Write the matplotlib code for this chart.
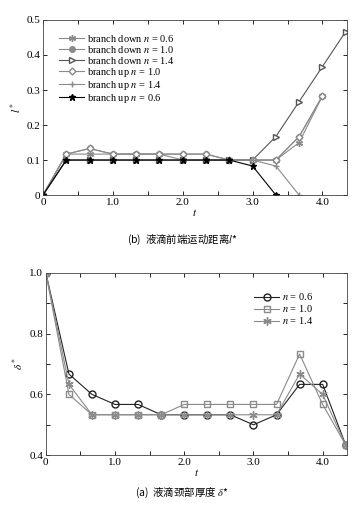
import matplotlib
matplotlib.use("Agg")
import matplotlib.pyplot as plt
from matplotlib.ticker import MultipleLocator, FixedLocator

plt.rcParams['font.family'] = ['Liberation Serif', 'DejaVu Serif']
plt.rcParams['mathtext.fontset'] = 'stix'

t = [k / 3 for k in range(14)]

# Top chart: l*
down06 = [0, 0.117, 0.117, 0.117, 0.117, 0.117, 0.1, 0.1, 0.1, 0.1, 0.1, 0.15, 0.283]
down10 = [0, 0.117, 0.133, 0.117, 0.117, 0.117, 0.117, 0.117, 0.1, 0.1, 0.1, 0.167, 0.283]
down14 = [0, 0.1, 0.1, 0.1, 0.1, 0.1, 0.1, 0.1, 0.1, 0.1, 0.167, 0.267, 0.367, 0.467]
up10 = [0, 0.117, 0.133, 0.117, 0.117, 0.117, 0.117, 0.117, 0.1, 0.1, 0.1, 0.167, 0.283]
up14 = [0, 0.1, 0.1, 0.1, 0.1, 0.1, 0.1, 0.1, 0.1, 0.1, 0.083, 0]
up06 = [0, 0.1, 0.1, 0.1, 0.1, 0.1, 0.1, 0.1, 0.1, 0.083, 0]

# Bottom chart: delta*
d06 = [1.0, 0.667, 0.6, 0.567, 0.567, 0.533, 0.533, 0.533, 0.533, 0.5, 0.533, 0.633, 0.633, 0.433]
d10 = [1.0, 0.6, 0.533, 0.533, 0.533, 0.533, 0.567, 0.567, 0.567, 0.567, 0.567, 0.733, 0.567, 0.433]
d14 = [1.0, 0.633, 0.533, 0.533, 0.533, 0.533, 0.533, 0.533, 0.533, 0.533, 0.533, 0.667, 0.6, 0.433]

gray = '#8a8a8a'
dgray = '#555555'
lw = 0.8
ms = 5
ast = (6, 2, 0)

fig = plt.figure(figsize=(3.64, 5.12), dpi=100)
ax1 = fig.add_axes([0.118, 0.619, 0.835, 0.342])
ax2 = fig.add_axes([0.126, 0.111, 0.827, 0.356])

def style(ax):
    ax.tick_params(direction='in', top=True, right=True, labelsize=8, length=3, width=0.6, pad=2)
    ax.tick_params(which='minor', direction='in', top=True, right=True, length=3, width=0.6)
    for s in ax.spines.values():
        s.set_linewidth(0.6)
        s.set_color('#444444')

n = len
ax1.plot(t[:n(down06)], down06, '-', marker=ast, color=gray, lw=lw, ms=ms, mew=1.0, label=r'branch down $n$ = 0.6')
ax1.plot(t[:n(down10)], down10, '-', marker='o', color=gray, mfc=gray, lw=lw, ms=4, label=r'branch down $n$ = 1.0')
ax1.plot(t[:n(down14)], down14, '-', marker='>', color=dgray, mfc='white', lw=lw, ms=ms, label=r'branch down $n$ = 1.4')
ax1.plot(t[:n(up10)], up10, '-', marker='D', color=gray, mfc='white', lw=lw, ms=3.5, label=r'branch up $n$ = 1.0')
ax1.plot(t[:n(up14)], up14, '-', marker='+', color=gray, lw=lw, ms=ms, label=r'branch up $n$ = 1.4')
ax1.plot(t[:n(up06)], up06, '-', marker='*', color='black', lw=lw, ms=ms, label=r'branch up $n$ = 0.6')
ax1.set_xlim(0, 4.35)
ax1.set_ylim(0, 0.5)
ax1.xaxis.set_major_locator(FixedLocator([0, 1, 2, 3, 4]))
ax1.set_xticklabels(['0', '1.0', '2.0', '3.0', '4.0'])
ax1.xaxis.set_minor_locator(MultipleLocator(0.5))
ax1.set_yticks([0, 0.1, 0.2, 0.3, 0.4, 0.5])
ax1.set_yticklabels(['0', '0.1', '0.2', '0.3', '0.4', '0.5'])
ax1.set_xlabel(r'$t$', fontsize=8, labelpad=0)
ax1.set_ylabel(r'$l^*$', fontsize=8, labelpad=2)
style(ax1)
ax1.legend(loc='upper left', frameon=False, fontsize=7.5, handlelength=2.4, labelspacing=0.0,
           borderaxespad=0.3, bbox_to_anchor=(0.03, 0.97), handletextpad=0.3)

ax2.plot(t, d06, '-', marker='o', color='#222222', mfc='none', lw=lw, ms=ms, label=r'$n$ = 0.6')
ax2.plot(t, d10, '-', marker='s', color=gray, mfc='none', lw=lw, ms=4, label=r'$n$ = 1.0')
ax2.plot(t, d14, '-', marker=ast, color=gray, lw=lw, ms=6, mew=1.0, label=r'$n$ = 1.4')
ax2.set_xlim(0, 4.35)
ax2.set_ylim(0.4, 1.0)
ax2.set_xticks([0, 1, 2, 3, 4])
ax2.set_xticklabels(['0', '1.0', '2.0', '3.0', '4.0'])
ax2.xaxis.set_minor_locator(MultipleLocator(0.5))
ax2.set_yticks([0.4, 0.6, 0.8, 1.0])
ax2.set_yticklabels(['0.4', '0.6', '0.8', '1.0'])
ax2.yaxis.set_minor_locator(MultipleLocator(0.1))
ax2.set_xlabel(r'$t$', fontsize=8, labelpad=0)
ax2.set_ylabel(r'$\delta^*$', fontsize=8, labelpad=2)
style(ax2)
ax2.legend(loc='upper right', frameon=False, fontsize=7.5, handlelength=2.4, labelspacing=0.1,
           bbox_to_anchor=(0.92, 0.95), handletextpad=0.3)

cjk = ['Noto Sans CJK SC', 'DejaVu Sans']
fig.text(0.5, 1 - 240 / 512, '(b)  液滴前端运动距离$\\mathit{l}$*', ha='center', va='center', fontsize=7.5, family=cjk)
fig.text(0.5, 1 - 493 / 512, '(a)  液滴颈部厚度 $\\delta$*', ha='center', va='center', fontsize=7.5, family=cjk)

fig.savefig('out.png', dpi=100)
